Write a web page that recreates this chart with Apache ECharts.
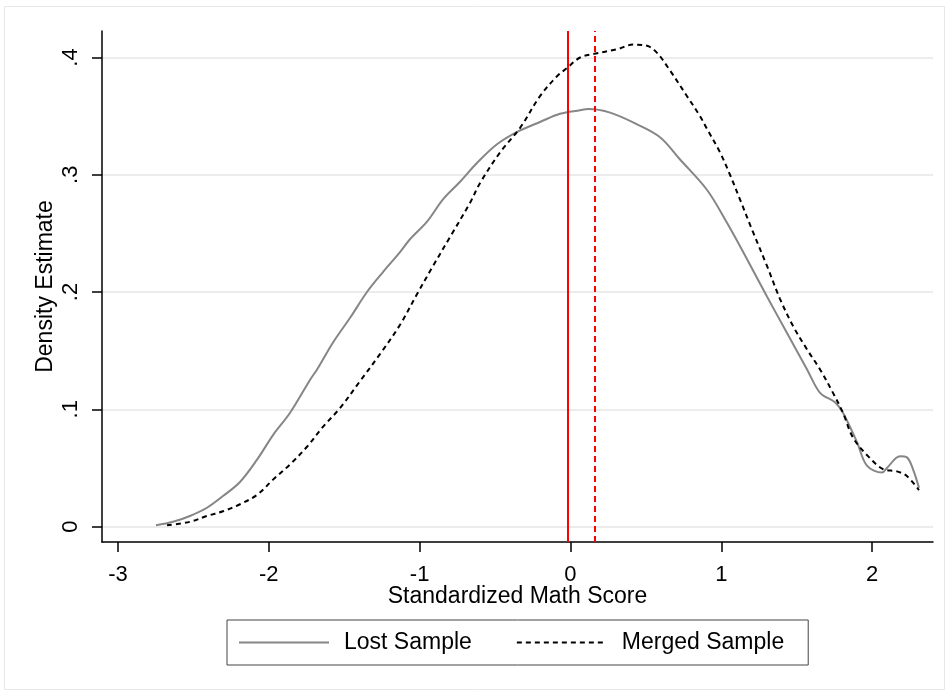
<!DOCTYPE html>
<html>
<head>
<meta charset="utf-8">
<script src="https://cdn.jsdelivr.net/npm/echarts@6/dist/echarts.min.js"></script>
<style>
  html, body { margin: 0; padding: 0; background: #fff; }
  #chart { width: 949px; height: 694px; }
</style>
</head>
<body>
<div id="chart"></div>
<script>
// Kernel density estimates of standardized math scores
const lostX = [-2.748, -2.635, -2.523, -2.410, -2.304, -2.191, -2.078, -1.972, -1.859, -1.727,
  -1.680, -1.574, -1.461, -1.349, -1.243, -1.130, -1.064, -0.951, -0.845, -0.732,
  -0.620, -0.487, -0.347, -0.202, -0.069, 0.064, 0.117, 0.263, 0.442, 0.594,
  0.727, 0.906, 1.038, 1.171, 1.304, 1.436, 1.569, 1.655, 1.754, 1.807,
  1.900, 1.966, 2.066, 2.099, 2.185, 2.231, 2.271, 2.311];
const lostY = [0.001, 0.004, 0.009, 0.016, 0.026, 0.038, 0.057, 0.078, 0.097, 0.125,
  0.134, 0.157, 0.178, 0.200, 0.217, 0.234, 0.245, 0.260, 0.279, 0.294,
  0.310, 0.326, 0.337, 0.345, 0.352, 0.355, 0.356, 0.353, 0.343, 0.332,
  0.313, 0.287, 0.259, 0.228, 0.196, 0.165, 0.134, 0.114, 0.106, 0.097,
  0.072, 0.052, 0.046, 0.050, 0.060, 0.059, 0.049, 0.033];

const mergedX = [-2.675, -2.523, -2.410, -2.304, -2.191, -2.078, -1.972, -1.859, -1.747, -1.641,
  -1.528, -1.395, -1.263, -1.130, -1.018, -0.912, -0.798, -0.666, -0.599, -0.467,
  -0.334, -0.202, -0.089, -0.023, 0.064, 0.150, 0.309, 0.415, 0.508, 0.574,
  0.660, 0.773, 0.859, 0.906, 0.992, 1.058, 1.124, 1.211, 1.304, 1.390,
  1.476, 1.569, 1.655, 1.741, 1.807, 1.873, 1.973, 2.072, 2.165, 2.231, 2.311];
const mergedY = [0.001, 0.004, 0.009, 0.013, 0.019, 0.027, 0.040, 0.053, 0.068, 0.085,
  0.101, 0.124, 0.147, 0.172, 0.198, 0.222, 0.247, 0.276, 0.293, 0.319,
  0.340, 0.367, 0.384, 0.391, 0.400, 0.403, 0.407, 0.411, 0.410, 0.404,
  0.389, 0.367, 0.350, 0.339, 0.319, 0.300, 0.279, 0.251, 0.222, 0.194,
  0.171, 0.151, 0.134, 0.114, 0.097, 0.076, 0.060, 0.049, 0.047, 0.043, 0.031];

// Sample means drawn as vertical reference lines
const lostMean = -0.02;
const mergedMean = 0.16;

const xTicks = [-3, -2, -1, 0, 1, 2];
const yTicks = [0, 0.1, 0.2, 0.3, 0.4];

const seriesNames = ['Lost Sample', 'Merged Sample'];

const FONT = '"Liberation Sans", Arial, Helvetica, sans-serif';

const pairs = (xs, ys) => xs.map((x, i) => [x, ys[i]]);

const chart = echarts.init(document.getElementById('chart'), null, { renderer: 'canvas' });

chart.setOption({
  animation: false,
  backgroundColor: '#ffffff',
  graphic: [{
    type: 'rect',
    shape: { x: 4.5, y: 6.5, width: 940, height: 683 },
    style: { fill: 'none', stroke: '#e8e8e8', lineWidth: 1 },
    silent: true,
    z: -10
  }],
  grid: { left: 102, right: 16, top: 31, bottom: 152, containLabel: false },
  xAxis: {
    type: 'value',
    min: -3.106,
    max: 2.404,
    name: 'Standardized Math Score',
    nameLocation: 'middle',
    nameGap: 43,
    nameMoveOverlap: false,
    nameTextStyle: { fontFamily: FONT, fontSize: 23, color: '#000' },
    axisLine: { show: true, onZero: false, lineStyle: { color: '#000', width: 1.5 } },
    axisTick: { show: true, length: 10, customValues: xTicks, lineStyle: { color: '#000', width: 1.5 } },
    axisLabel: {
      show: true, customValues: xTicks, margin: 22,
      fontFamily: FONT, fontSize: 22, color: '#000',
      formatter: v => String(v)
    },
    splitLine: { show: false }
  },
  yAxis: {
    type: 'value',
    min: -0.0132,
    max: 0.4226,
    name: 'Density Estimate',
    nameLocation: 'middle',
    nameGap: 45,
    nameMoveOverlap: false,
    nameTextStyle: { fontFamily: FONT, fontSize: 23, color: '#000' },
    axisLine: { show: true, onZero: false, lineStyle: { color: '#000', width: 1.5 } },
    axisTick: { show: true, length: 10, customValues: yTicks, lineStyle: { color: '#000', width: 1.5 } },
    axisLabel: {
      show: true, customValues: yTicks, margin: 20, rotate: 90,
      fontFamily: FONT, fontSize: 22, color: '#000',
      formatter: v => (v === 0 ? '0' : String(Math.round(v * 10) / 10).replace(/^0/, ''))
    },
    splitLine: { show: true, lineStyle: { color: '#e6e6e6', width: 1.5 } }
  },
  legend: {
    left: 227,
    top: 620,
    orient: 'horizontal',
    data: seriesNames,
    itemWidth: 90,
    itemHeight: 14,
    itemGap: 44,
    padding: [11, 24, 11, 11],
    borderColor: '#444',
    borderWidth: 1,
    selectedMode: false,
    itemStyle: { opacity: 0 },
    textStyle: { fontFamily: FONT, fontSize: 23, color: '#000', padding: [0, 0, 0, 10] }
  },
  series: [
    {
      name: seriesNames[0],
      type: 'line',
      data: pairs(lostX, lostY),
      smooth: 0.35,
      symbol: 'none',
      showSymbol: false,
      lineStyle: { color: '#868686', width: 2, type: 'solid' },
      itemStyle: { color: '#868686' },
      z: 3,
      markLine: {
        silent: true,
        symbol: 'none',
        label: { show: false },
        lineStyle: { color: '#ff0000', width: 2, type: 'solid' },
        data: [{ xAxis: lostMean }]
      }
    },
    {
      name: seriesNames[1],
      type: 'line',
      data: pairs(mergedX, mergedY),
      smooth: 0.35,
      symbol: 'none',
      showSymbol: false,
      lineStyle: { color: '#000000', width: 2, type: [5, 4] },
      itemStyle: { color: '#000000' },
      z: 4,
      markLine: {
        silent: true,
        symbol: 'none',
        label: { show: false },
        lineStyle: { color: '#ff0000', width: 2, type: [6, 4] },
        data: [{ xAxis: mergedMean }]
      }
    }
  ]
});
</script>
</body>
</html>
